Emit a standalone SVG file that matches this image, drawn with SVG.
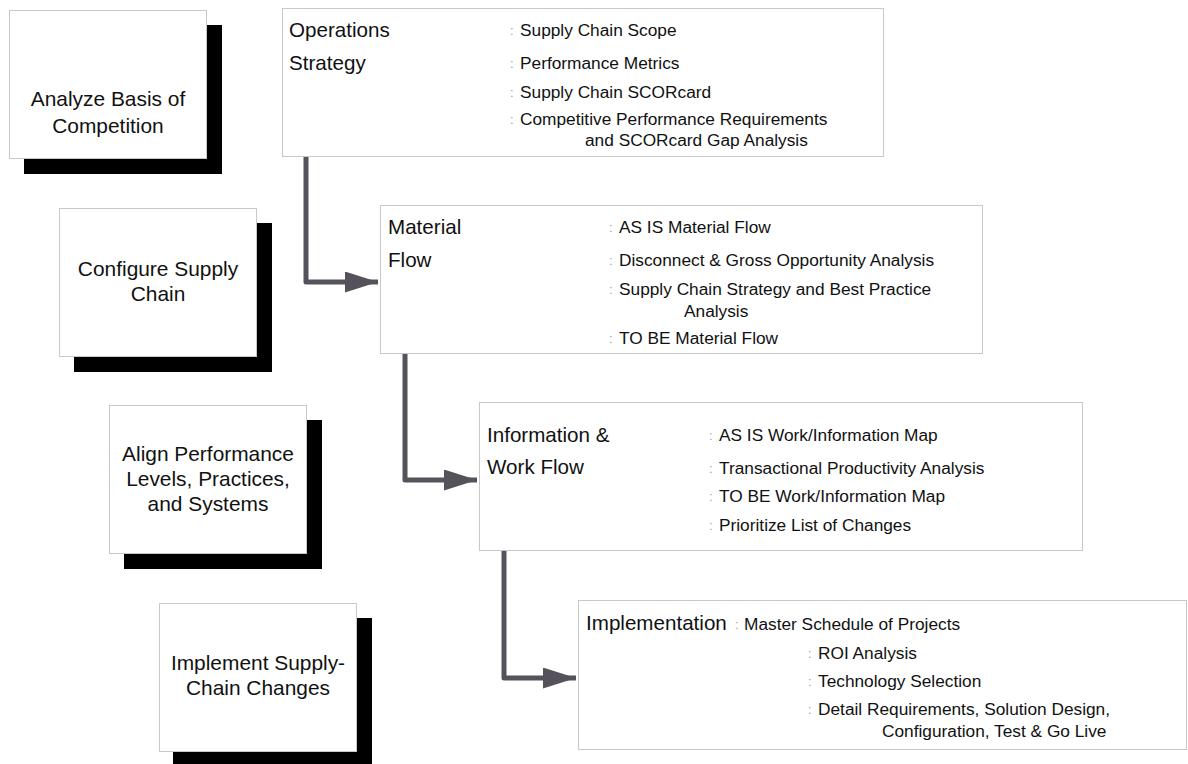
<svg xmlns="http://www.w3.org/2000/svg" width="1188" height="764" viewBox="0 0 1188 764">
  <style>
    .shadow { fill: #000; }
    .card { fill: #fff; stroke: #c8c8c8; stroke-width: 1; }
    .panel { fill: #fff; stroke: #c8c8c8; stroke-width: 1; }
    .step { font-family: "Liberation Sans", Arial, sans-serif; font-size: 20.9px; fill: #111; text-anchor: middle; }
    .title { font-family: "Liberation Sans", Arial, sans-serif; font-size: 20.6px; fill: #111; }
    .item { font-family: "Liberation Sans", Arial, sans-serif; font-size: 17.3px; fill: #111; }
    .colon { font-family: "Liberation Sans", Arial, sans-serif; font-size: 13px; fill: #a0a0a0; }
    .link { fill: none; stroke: #56525b; stroke-width: 5; stroke-linejoin: round; }
  </style>
  <defs>
    <marker id="head" viewBox="0 0 33 21" refX="33" refY="10.5" markerWidth="33" markerHeight="21" markerUnits="userSpaceOnUse" orient="auto">
      <path d="M0,0 L33,10.5 L0,21 Z" fill="#56525b"/>
    </marker>
  </defs>
  <rect width="1188" height="764" fill="#fff"/>

  <!-- Left column: process steps with drop shadows -->
  <g id="step-analyze">
    <rect class="shadow" x="24" y="25" width="198" height="149"/>
    <rect class="card" x="9.5" y="10.5" width="197" height="148"/>
    <text class="step" x="108" y="106">Analyze Basis of</text>
    <text class="step" x="108" y="133">Competition</text>
  </g>
  <g id="step-configure">
    <rect class="shadow" x="74" y="223" width="198" height="149"/>
    <rect class="card" x="59.5" y="208.5" width="197" height="148"/>
    <text class="step" x="158" y="276">Configure Supply</text>
    <text class="step" x="158" y="301">Chain</text>
  </g>
  <g id="step-align">
    <rect class="shadow" x="124" y="420" width="198" height="149"/>
    <rect class="card" x="109.5" y="405.5" width="197" height="148"/>
    <text class="step" x="208" y="461">Align Performance</text>
    <text class="step" x="208" y="486">Levels, Practices,</text>
    <text class="step" x="208" y="511">and Systems</text>
  </g>
  <g id="step-implement">
    <rect class="shadow" x="173" y="618" width="199" height="149"/>
    <rect class="card" x="159.5" y="603.5" width="197" height="148"/>
    <text class="step" x="258" y="670">Implement Supply-</text>
    <text class="step" x="258" y="695">Chain Changes</text>
  </g>

  <!-- Connectors between detail panels -->
  <g id="connectors">
    <path class="link" d="M306,157 L306,282 L378,282" marker-end="url(#head)"/>
    <path class="link" d="M405,354 L405,480 L477,480" marker-end="url(#head)"/>
    <path class="link" d="M504,551 L504,678 L576,678" marker-end="url(#head)"/>
  </g>

  <!-- Detail panels -->
  <g id="panel-strategy">
    <rect class="panel" x="282.5" y="8.5" width="601" height="148"/>
    <text class="title" x="289" y="37">Operations</text>
    <text class="title" x="289" y="70">Strategy</text>
    <text class="colon" x="510" y="35">:</text>
    <text class="item" x="520" y="36">Supply Chain Scope</text>
    <text class="colon" x="510" y="68">:</text>
    <text class="item" x="520" y="69">Performance Metrics</text>
    <text class="colon" x="510" y="97">:</text>
    <text class="item" x="520" y="98">Supply Chain SCORcard</text>
    <text class="colon" x="510" y="124">:</text>
    <text class="item" x="520" y="125">Competitive Performance Requirements</text>
    <text class="item" x="585" y="146">and SCORcard Gap Analysis</text>
  </g>
  <g id="panel-material">
    <rect class="panel" x="380.5" y="205.5" width="602" height="148"/>
    <text class="title" x="388" y="234">Material</text>
    <text class="title" x="388" y="267">Flow</text>
    <text class="colon" x="609" y="232">:</text>
    <text class="item" x="619" y="233">AS IS Material Flow</text>
    <text class="colon" x="609" y="265">:</text>
    <text class="item" x="619" y="266">Disconnect &amp; Gross Opportunity Analysis</text>
    <text class="colon" x="609" y="294">:</text>
    <text class="item" x="619" y="295">Supply Chain Strategy and Best Practice</text>
    <text class="item" x="684" y="317">Analysis</text>
    <text class="colon" x="609" y="343">:</text>
    <text class="item" x="619" y="344">TO BE Material Flow</text>
  </g>
  <g id="panel-information">
    <rect class="panel" x="479.5" y="402.5" width="603" height="148"/>
    <text class="title" x="487" y="442">Information &amp;</text>
    <text class="title" x="487" y="474">Work Flow</text>
    <text class="colon" x="709" y="440">:</text>
    <text class="item" x="719" y="441">AS IS Work/Information Map</text>
    <text class="colon" x="709" y="473">:</text>
    <text class="item" x="719" y="474">Transactional Productivity Analysis</text>
    <text class="colon" x="709" y="501">:</text>
    <text class="item" x="719" y="502">TO BE Work/Information Map</text>
    <text class="colon" x="709" y="530">:</text>
    <text class="item" x="719" y="531">Prioritize List of Changes</text>
  </g>
  <g id="panel-implementation">
    <rect class="panel" x="578.5" y="600.5" width="608" height="149"/>
    <text class="title" x="586" y="630">Implementation</text>
    <text class="colon" x="735" y="629">:</text>
    <text class="item" x="744" y="630">Master Schedule of Projects</text>
    <text class="colon" x="808" y="658">:</text>
    <text class="item" x="818" y="659">ROI Analysis</text>
    <text class="colon" x="808" y="686">:</text>
    <text class="item" x="818" y="687">Technology Selection</text>
    <text class="colon" x="808" y="714">:</text>
    <text class="item" x="818" y="715">Detail Requirements, Solution Design,</text>
    <text class="item" x="882" y="737">Configuration, Test &amp; Go Live</text>
  </g>
</svg>
